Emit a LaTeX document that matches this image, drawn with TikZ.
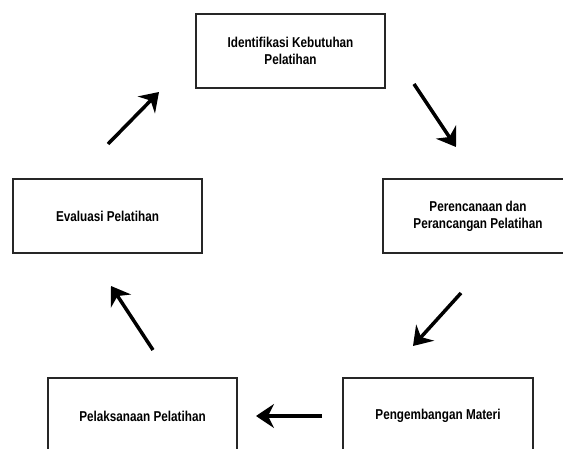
\documentclass[tikz,border=0pt]{standalone}
\usepackage{fontspec}
\setmainfont{Liberation Sans}[FakeStretch=0.82]
\usetikzlibrary{arrows.meta}
\begin{document}
\begin{tikzpicture}[x=1pt,y=-1pt,
  stagebox/.style={draw=black!85,line width=2pt,rectangle,inner sep=0pt,
    align=center,font=\fontsize{14.3}{17}\selectfont\bfseries},
  flow/.style={line width=3.5pt,-{Stealth[length=18pt,width=24pt,inset=6pt]}}]
\useasboundingbox (0,0) rectangle (563,449);
\clip (0,0) rectangle (563,449);
\node[stagebox,minimum width=189pt,minimum height=74pt] (ident) at (290.5,51) {Identifikasi Kebutuhan\\Pelatihan};
\node[stagebox,minimum width=190pt,minimum height=74pt] (renc) at (478,216) {Perencanaan dan\\Perancangan Pelatihan};
\node[stagebox,minimum width=190pt,minimum height=76pt] (kemb) at (438,416) {Pengembangan Materi};
\node[stagebox,minimum width=189pt,minimum height=76pt] (laks) at (142.5,416) {Pelaksanaan Pelatihan};
\node[stagebox,minimum width=189pt,minimum height=74pt] (eval) at (107.5,216) {Evaluasi Pelatihan};
\coordinate (a1s) at (414,84);  \coordinate (a1e) at (456,147);
\coordinate (a2s) at (461,293); \coordinate (a2e) at (413,346);
\coordinate (a3s) at (322,416); \coordinate (a3e) at (256,416);
\coordinate (a4s) at (153,350); \coordinate (a4e) at (111,286);
\coordinate (a5s) at (108,144); \coordinate (a5e) at (159,92);
\draw[flow] (a1s) -- (a1e);
\draw[flow] (a2s) -- (a2e);
\draw[flow] (a3s) -- (a3e);
\draw[flow] (a4s) -- (a4e);
\draw[flow] (a5s) -- (a5e);
\end{tikzpicture}
\end{document}
